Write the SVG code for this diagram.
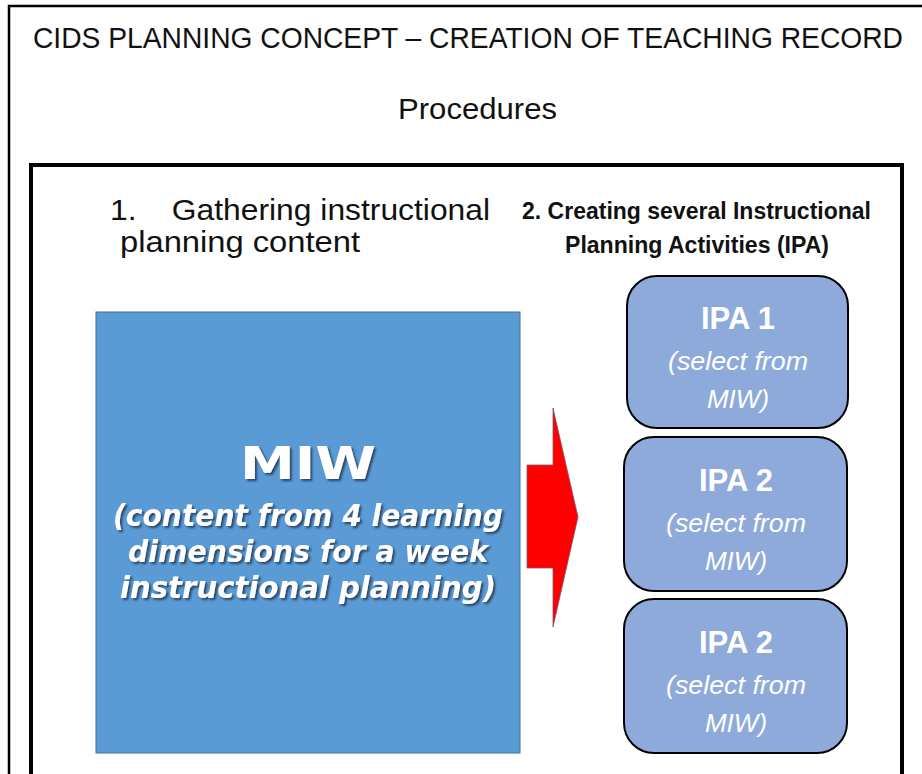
<svg xmlns="http://www.w3.org/2000/svg" width="922" height="774" viewBox="0 0 922 774">
<defs>
<style>
.cal{font-family:"Liberation Sans","Open Sans",sans-serif;fill:#111}
.miw{font-family:"DejaVu Sans","Liberation Sans",sans-serif;fill:#fff;font-weight:bold;text-anchor:middle}
.ipa{fill:#8eaadb;stroke:#000;stroke-width:2}
.ipat{font-family:"Liberation Sans","Open Sans",sans-serif;fill:#fff;text-anchor:middle}
</style>
<filter id="sh" x="-10%" y="-20%" width="120%" height="140%">
<feDropShadow dx="2" dy="2" stdDeviation="1.2" flood-color="#1a2a40" flood-opacity="0.75"/>
</filter>
</defs>
<rect width="922" height="774" fill="#fff"/>
<rect x="9" y="6" width="960" height="820" fill="none" stroke="#000" stroke-width="2.5"/>
<rect x="31" y="165" width="871" height="700" fill="none" stroke="#000" stroke-width="4"/>
<g id="title">
<text class="cal" x="33" y="48" font-size="28" textLength="870" lengthAdjust="spacingAndGlyphs" transform="translate(0,-3.4) scale(1,1.07)">CIDS PLANNING CONCEPT – CREATION OF TEACHING RECORD</text>
<text class="cal" x="398" y="119" font-size="29" textLength="159" lengthAdjust="spacingAndGlyphs">Procedures</text>
</g>
<g id="step1">
<text class="cal" x="110" y="220" font-size="29" textLength="380" lengthAdjust="spacingAndGlyphs" xml:space="preserve">1.    Gathering instructional</text>
<text class="cal" x="120" y="252" font-size="29" textLength="240" lengthAdjust="spacingAndGlyphs">planning content</text>
</g>
<g id="step2">
<text class="cal" x="522" y="219" font-size="23" font-weight="bold" textLength="349" lengthAdjust="spacingAndGlyphs">2. Creating several Instructional</text>
<text class="cal" x="565" y="253" font-size="23" font-weight="bold" textLength="264" lengthAdjust="spacingAndGlyphs">Planning Activities (IPA)</text>
</g>
<g id="miw">
<rect x="96" y="312" width="424" height="441" fill="#5b9bd5" stroke="#41719c" stroke-width="1"/>
<g filter="url(#sh)">
<text class="miw" x="308" y="479" font-size="44" textLength="136" lengthAdjust="spacingAndGlyphs">MIW</text>
<text class="miw" x="308" y="526" font-size="30" font-style="italic" textLength="390" lengthAdjust="spacingAndGlyphs">(content from 4 learning</text>
<text class="miw" x="308" y="562" font-size="30" font-style="italic" textLength="360" lengthAdjust="spacingAndGlyphs">dimensions for a week</text>
<text class="miw" x="308" y="598" font-size="30" font-style="italic" textLength="376" lengthAdjust="spacingAndGlyphs">instructional planning)</text>
</g>
</g>
<g id="connectors">
<polygon points="527,465 553,465 553,408 578,517 553,627 553,568 527,568" fill="#ff0000" stroke="#7a5a70" stroke-width="0.8"/>
</g>
<g id="ipa1">
<rect class="ipa" x="627" y="276" width="221" height="152" rx="30"/>
<text class="ipat" x="738" y="329" font-size="31" font-weight="bold">IPA 1</text>
<text class="ipat" x="738" y="370" font-size="26" font-style="italic" textLength="140" lengthAdjust="spacingAndGlyphs">(select from</text>
<text class="ipat" x="738" y="408" font-size="26" font-style="italic">MIW)</text>
</g>
<g id="ipa2">
<rect class="ipa" x="624" y="437" width="223" height="154" rx="30"/>
<text class="ipat" x="736" y="491" font-size="31" font-weight="bold">IPA 2</text>
<text class="ipat" x="736" y="532" font-size="26" font-style="italic" textLength="140" lengthAdjust="spacingAndGlyphs">(select from</text>
<text class="ipat" x="736" y="570" font-size="26" font-style="italic">MIW)</text>
</g>
<g id="ipa3">
<rect class="ipa" x="624" y="599" width="223" height="154" rx="30"/>
<text class="ipat" x="736" y="653" font-size="31" font-weight="bold">IPA 2</text>
<text class="ipat" x="736" y="694" font-size="26" font-style="italic" textLength="140" lengthAdjust="spacingAndGlyphs">(select from</text>
<text class="ipat" x="736" y="732" font-size="26" font-style="italic">MIW)</text>
</g>
</svg>
